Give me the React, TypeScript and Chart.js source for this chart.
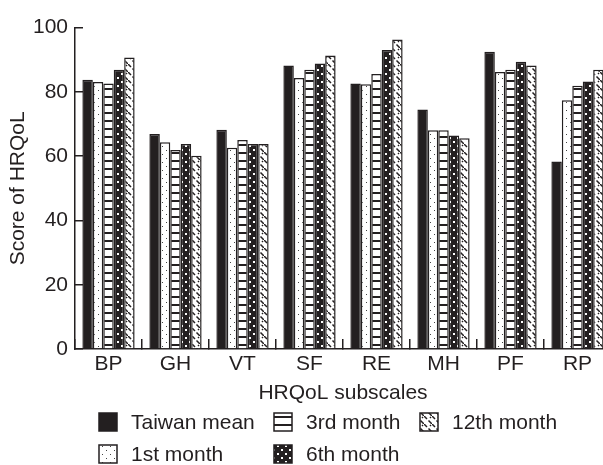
import React, { useEffect, useRef } from "react";
import { Chart, registerables } from "chart.js";

Chart.register(...registerables);

const INK = "#231f20";
const FONT = "'Liberation Sans', Arial, sans-serif";
const FONT_SIZE = 21;

const subscales = ["BP", "GH", "VT", "SF", "RE", "MH", "PF", "RP"];
const seriesNames = ["Taiwan mean", "1st month", "3rd month", "6th month", "12th month"];
const taiwanMean = [83.8, 66.9, 68.2, 88.2, 82.6, 74.5, 92.5, 58.3];
const month1 = [83.1, 64.3, 62.6, 84.3, 82.4, 68.1, 86.2, 77.4];
const month3 = [82.6, 61.9, 65.0, 86.9, 85.6, 68.1, 86.9, 81.9];
const month6 = [86.9, 63.8, 63.8, 88.8, 93.0, 66.4, 89.4, 83.2];
const month12 = [90.7, 60.1, 63.8, 91.3, 96.3, 65.6, 88.2, 86.9];

// little tiles used as bar fills
function makePattern(kind: string): CanvasPattern | string {
  if (kind === "solid") return INK;
  const tile = document.createElement("canvas");
  tile.width = 8;
  tile.height = 8;
  const c = tile.getContext("2d")!;
  if (kind === "dots") {
    c.fillStyle = "#fff";
    c.fillRect(0, 0, 8, 8);
    c.fillStyle = "#444";
    c.fillRect(2, 2, 1, 1);
    c.fillRect(6, 6, 1, 1);
  } else if (kind === "stripes") {
    c.fillStyle = "#fff";
    c.fillRect(0, 0, 8, 8);
    c.fillStyle = INK;
    c.fillRect(0, 0, 8, 2);
  } else if (kind === "darkdots") {
    c.fillStyle = INK;
    c.fillRect(0, 0, 8, 8);
    c.fillStyle = "#fff";
    c.fillRect(1, 1, 2, 2);
    c.fillRect(5, 5, 2, 2);
  } else {
    c.fillStyle = "#fff";
    c.fillRect(0, 0, 8, 8);
    c.strokeStyle = INK;
    c.lineWidth = 1.5;
    c.beginPath();
    c.moveTo(0, 0);
    c.lineTo(3, 3);
    c.moveTo(4.5, 4.5);
    c.lineTo(8, 8);
    c.moveTo(6, 1);
    c.lineTo(7, 2);
    c.stroke();
  }
  return c.createPattern(tile, "repeat")!;
}

// legend laid out in columns: [column, row]
const legendSlots = [
  [0, 0],
  [0, 1],
  [1, 0],
  [1, 1],
  [2, 0],
];
const legendColX = [99, 274, 420];
const legendRowY = [422, 454];

const columnLegend = {
  id: "columnLegend",
  afterDraw(chart: Chart) {
    const ctx = chart.ctx;
    ctx.save();
    ctx.font = `${FONT_SIZE}px ${FONT}`;
    ctx.textBaseline = "middle";
    chart.data.datasets.forEach((ds, i) => {
      const [col, row] = legendSlots[i];
      const x = legendColX[col];
      const y = legendRowY[row];
      ctx.fillStyle = ds.backgroundColor as any;
      ctx.fillRect(x, y - 9, 18, 18);
      ctx.strokeStyle = INK;
      ctx.lineWidth = 1.5;
      ctx.strokeRect(x, y - 9, 18, 18);
      ctx.fillStyle = INK;
      ctx.fillText(ds.label as string, x + 32, y + 1);
    });
    ctx.restore();
  },
};

const HRQoLChart: React.FC = () => {
  const canvasRef = useRef<HTMLCanvasElement | null>(null);
  const chartRef = useRef<Chart | null>(null);

  useEffect(() => {
    if (!canvasRef.current) return;
    const ctx = canvasRef.current.getContext("2d");
    if (!ctx) return;
    if (chartRef.current) chartRef.current.destroy();

    const values = [taiwanMean, month1, month3, month6, month12];
    const fills = ["solid", "dots", "stripes", "darkdots", "diag"];

    chartRef.current = new Chart(ctx, {
      type: "bar",
      data: {
        labels: subscales,
        datasets: values.map((v, i) => ({
          label: seriesNames[i],
          data: v,
          backgroundColor: makePattern(fills[i]) as any,
          borderColor: INK,
          borderWidth: 1.5,
          barPercentage: 1,
          categoryPercentage: 0.78,
        })),
      },
      options: {
        animation: false,
        responsive: true,
        maintainAspectRatio: false,
        layout: { padding: { left: 0, right: 1, top: 24, bottom: 59 } },
        plugins: {
          legend: { display: false },
          tooltip: { enabled: false },
        },
        scales: {
          x: {
            grid: {
              display: true,
              drawOnChartArea: false,
              drawTicks: true,
              tickLength: -10,
              color: INK,
              lineWidth: 1.5,
            },
            border: { display: true, color: INK, width: 1.5 },
            ticks: {
              color: INK,
              font: { family: FONT, size: FONT_SIZE },
              padding: 13,
              maxRotation: 0,
            },
            title: {
              display: true,
              text: "HRQoL subscales",
              color: INK,
              font: { family: FONT, size: FONT_SIZE },
              padding: 0,
            },
            afterFit: (scale) => {
              scale.height = 57;
            },
          },
          y: {
            min: 0,
            max: 100,
            grid: {
              display: true,
              drawOnChartArea: false,
              drawTicks: true,
              tickLength: -8,
              color: INK,
              lineWidth: 1.5,
            },
            border: { display: true, color: INK, width: 1.5 },
            ticks: {
              stepSize: 20,
              color: INK,
              font: { family: FONT, size: FONT_SIZE },
              padding: 15,
            },
            title: {
              display: true,
              text: "Score of HRQoL",
              color: INK,
              font: { family: FONT, size: FONT_SIZE },
              padding: { top: 6, bottom: 0 },
            },
            afterFit: (scale) => {
              scale.width = 75;
            },
          },
        },
      },
      plugins: [columnLegend],
    });

    return () => {
      if (chartRef.current) {
        chartRef.current.destroy();
        chartRef.current = null;
      }
    };
  }, []);

  return (
    <div
      style={{
        position: "fixed",
        left: 0,
        top: 0,
        width: 603,
        height: 465,
        overflow: "hidden",
        background: "#fff",
      }}
    >
      <div style={{ position: "relative", width: 612, height: 465 }}>
        <canvas ref={canvasRef}></canvas>
      </div>
    </div>
  );
};

export default function App() {
  return <HRQoLChart />;
}
